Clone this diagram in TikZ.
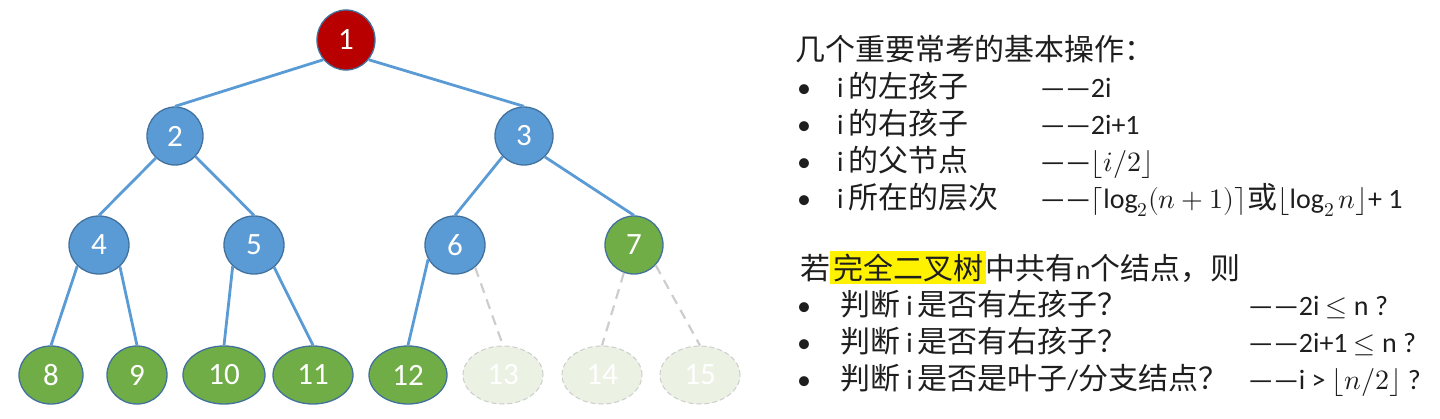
\documentclass[tikz,border=0pt]{standalone}
\usepackage{fontspec}
\usepackage{unicode-math}
\setmainfont{Carlito}
\newfontfamily\cjk[Scale=1.07]{Noto Sans CJK SC}
\usetikzlibrary{shapes.geometric}

\definecolor{nodeblue}{HTML}{5B9BD5}
\definecolor{nodegreen}{HTML}{70AD47}
\definecolor{nodered}{HTML}{B80000}
\definecolor{rim}{HTML}{41719C}
\definecolor{ghost}{HTML}{EBF1E3}
\definecolor{ghostrim}{HTML}{CDCDCD}
\definecolor{inktext}{HTML}{1E1E1E}
\setlength{\fboxsep}{3pt}

\begin{document}
\begin{tikzpicture}[x=1pt,y=-1pt]

		\tikzstyle{vertex}=[ellipse,draw=rim,line width=1.3pt,inner sep=0pt,minimum height=58pt,text=white,font=\fontsize{31}{33}\selectfont]
		\tikzstyle{midnode}=[vertex,fill=nodeblue]
		\tikzstyle{leaf}=[vertex,fill=nodegreen]
		\tikzstyle{rootnode}=[vertex,fill=nodered,minimum height=60pt]
		\tikzstyle{absent}=[vertex,draw=ghostrim,line width=1pt,dash pattern=on 5pt off 3pt,fill=ghost,minimum width=80pt]
		\tikzstyle{branch}=[draw=nodeblue,line width=2.8pt]
		\tikzstyle{ghostbranch}=[draw=ghostrim,line width=2.2pt,dash pattern=on 10pt off 7pt]
		\tikzstyle{textline}=[anchor=base west,inner sep=0pt,text=inktext,font=\fontsize{28}{32}\selectfont]
		
		\useasboundingbox (0,0) rectangle (1440,418);
		
		\node[rootnode,minimum width=58pt] (n1) at (346,40) {1};
		\node[midnode,minimum width=56pt] (n2) at (175,136) {2};
		\node[midnode,minimum width=58pt] (n3) at (524,136) {3};
		\node[midnode,minimum width=60pt] (n4) at (99,245) {4};
		\node[midnode,minimum width=60pt] (n5) at (254,245) {5};
		\node[midnode,minimum width=60pt] (n6) at (455,245) {6};
		\node[leaf,minimum width=58pt] (n7) at (634,245) {7};
		\node[leaf,minimum width=64pt] (n8) at (51,375) {8};
		\node[leaf,minimum width=60pt] (n9) at (137,375) {9};
		\node[leaf,minimum width=82pt] (n10) at (224,375) {10};
		\node[leaf,minimum width=80pt] (n11) at (313,375) {11};
		\node[leaf,minimum width=78pt] (n12) at (408,375) {12};
		\node[absent] (n13) at (503,375) {13};
		\node[absent] (n14) at (602,375) {14};
		\node[absent] (n15) at (700,375) {15};
		
		\draw[branch] (n1.221) -- (n2.north);
		\draw[branch] (n1.319) -- (n3.north);
		\draw[branch] (n2.229) -- (n4.north);
		\draw[branch] (n2.315) -- (n5.north);
		\draw[branch] (n3.224) -- (n6.north);
		\draw[branch] (n3.315) -- (n7.north);
		\draw[branch] (n4.224) -- (n8.north);
		\draw[branch] (n4.314) -- (n9.north);
		\draw[branch] (n5.225) -- (n10.north);
		\draw[branch] (n5.312) -- (n11.north);
		\draw[branch] (n6.208) -- (n12.north);
		\draw[ghostbranch] (n6.312) -- (n13.north);
		\draw[ghostbranch] (n7.250) -- (n14.north);
		\draw[ghostbranch] (n7.317) -- (n15.north);
		
		\node[textline] (ops) at (795,60) {\cjk 几个重要常考的基本操作：};
		\node[textline] (b1) at (797,97) {\textbullet};
		\node[textline] (b2) at (797,134) {\textbullet};
		\node[textline] (b3) at (797,171) {\textbullet};
		\node[textline] (b4) at (797,208) {\textbullet};
		\node[textline] (lchild) at (837,97) {i\,{\cjk 的左孩子}};
		\node[textline] (rchild) at (837,134) {i\,{\cjk 的右孩子}};
		\node[textline] (parent) at (837,171) {i\,{\cjk 的父节点}};
		\node[textline] (level) at (837,208) {i\,{\cjk 所在的层次}};
		\node[textline] (lchildf) at (1040,97) {——2i};
		\node[textline] (rchildf) at (1040,134) {——2i+1};
		\node[textline] (parentf) at (1040,171) {——$\lfloor i/2\rfloor$};
		\node[textline] (levelf) at (1040,208) {——$\lceil\log_2(n+1)\rceil${\cjk 或}$\lfloor\log_2 n\rfloor$+ 1};
		
		\node[textline] (cbt) at (800,279) {{\cjk 若}\colorbox{yellow}{\cjk 完全二叉树}{\cjk 中共有}n{\cjk 个结点，则}};
		\node[textline] (b5) at (797,315) {\textbullet};
		\node[textline] (b6) at (797,352) {\textbullet};
		\node[textline] (b7) at (797,389) {\textbullet};
		\node[textline] (hasl) at (840,315) {{\cjk 判断} i\,{\cjk 是否有左孩子？}};
		\node[textline] (hasr) at (840,352) {{\cjk 判断} i\,{\cjk 是否有右孩子？}};
		\node[textline] (isleaf) at (840,389) {{\cjk 判断} i\,{\cjk 是否是叶子}/{\cjk 分支结点？}};
		\node[textline] (haslf) at (1248,315) {——2i $\leq$ n ?};
		\node[textline] (hasrf) at (1248,352) {——2i+1 $\leq$ n ?};
		\node[textline] (isleaff) at (1248,389) {——i > $\lfloor n/2\rfloor$ ?};
		
		\end{tikzpicture}
\end{document}
